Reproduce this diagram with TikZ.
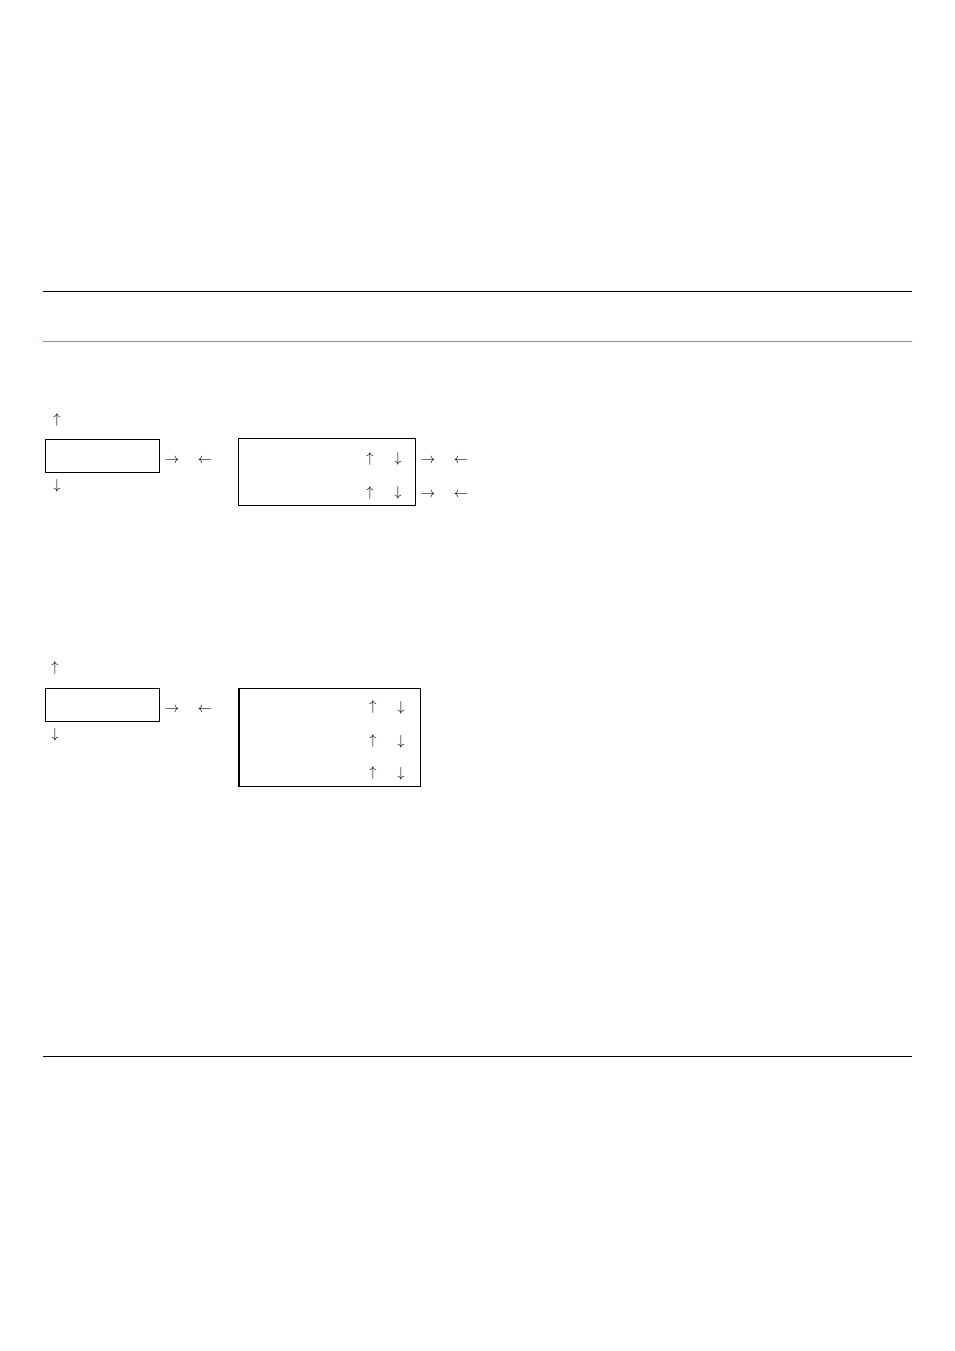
\documentclass[tikz,border=0pt]{standalone}
\usepackage{fontspec}
\begin{document}
\begin{tikzpicture}[x=1pt,y=-1pt,
  glyph/.style={inner sep=0pt,font=\fontsize{15}{17}\selectfont,yshift=-1.5pt},
  boxframe/.style={draw=black,line width=1pt},
  rule/.style={line width=1pt}]
\useasboundingbox (0,0) rectangle (954,1351);
% rules
\coordinate (r1a) at (43,291); \coordinate (r1b) at (912,291);
\coordinate (r2a) at (43,341); \coordinate (r2b) at (912,341);
\coordinate (r3a) at (43,1056); \coordinate (r3b) at (912,1056);
\draw[rule,black] (r1a) -- (r1b);
\draw[line width=0.9pt,color={rgb,255:red,34;green,221;blue,34}] (r2a) -- (r2b);
\draw[rule,black] (r3a) -- (r3b);
% section 1
\node[glyph] (u1) at (57,418) {$\uparrow$};
\draw[boxframe] (45,439) rectangle (159,472);
\node[glyph] (d1) at (57,484) {$\downarrow$};
\node[glyph] (ra1) at (172,459) {$\rightarrow$};
\node[glyph] (la1) at (205,459) {$\leftarrow$};
\draw[boxframe] (238,438) rectangle (415,505);
\node[glyph] (bu1) at (370,457) {$\uparrow$};
\node[glyph] (bd1) at (398,457) {$\downarrow$};
\node[glyph] (bu2) at (370,491) {$\uparrow$};
\node[glyph] (bd2) at (398,491) {$\downarrow$};
\node[glyph] (ra2) at (428,459) {$\rightarrow$};
\node[glyph] (la2) at (461,459) {$\leftarrow$};
\node[glyph] (ra3) at (428,493) {$\rightarrow$};
\node[glyph] (la3) at (461,493) {$\leftarrow$};
% section 2
\node[glyph] (u2) at (55,666) {$\uparrow$};
\draw[boxframe] (45,688) rectangle (159,721);
\node[glyph] (d2) at (55,733) {$\downarrow$};
\node[glyph] (ra4) at (172,708) {$\rightarrow$};
\node[glyph] (la4) at (205,708) {$\leftarrow$};
\draw[boxframe] (238,688) rectangle (420,786);
\draw[line width=2pt] (238.5,688) -- (238.5,786);
\node[glyph] (cu1) at (373,705) {$\uparrow$};
\node[glyph] (cd1) at (401,706) {$\downarrow$};
\node[glyph] (cu2) at (373,739) {$\uparrow$};
\node[glyph] (cd2) at (401,740) {$\downarrow$};
\node[glyph] (cu3) at (373,771) {$\uparrow$};
\node[glyph] (cd3) at (401,772) {$\downarrow$};
\end{tikzpicture}
\end{document}
